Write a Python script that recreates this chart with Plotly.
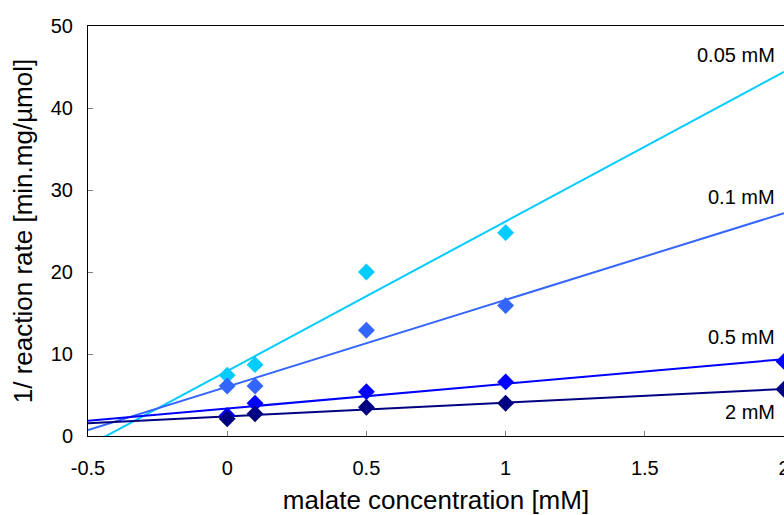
import numpy as np
import plotly.graph_objects as go

# Lineweaver-Burk style data: 1/rate versus malate concentration,
# one series per fixed co-substrate concentration
series_names = ["0.05 mM", "0.1 mM", "0.5 mM", "2 mM"]
series_x = [
    [0, 0.1, 0.5, 1],
    [0, 0.1, 0.5, 1],
    [0, 0.1, 0.5, 1, 2],
    [0, 0.1, 0.5, 1, 2],
]
inv_rate_005 = [7.4, 8.7, 20.0, 24.8]
inv_rate_01 = [6.1, 6.1, 12.9, 15.9]
inv_rate_05 = [2.5, 4.0, 5.4, 6.6, 9.1]
inv_rate_2 = [2.1, 2.7, 3.5, 4.0, 5.7]
series_y = [inv_rate_005, inv_rate_01, inv_rate_05, inv_rate_2]

colors = ["#00CCFF", "#3366FF", "#0000FF", "#000080"]

# label heights (data units) for the series names at the right edge
label_y = [46.5, 29.1, 12.1, 2.9]

x_ticks = [-0.5, 0, 0.5, 1, 1.5, 2]
x_tick_text = ["-0.5", "0", "0.5", "1", "1.5", "2"]
y_ticks = [0, 10, 20, 30, 40, 50]
x_range = [-0.5, 2]

FONT = "Liberation Sans, Arial, sans-serif"

fig = go.Figure()

# linear regression lines across the full x range
for name, xs, ys, c in zip(series_names, series_x, series_y, colors):
    slope, intercept = np.polyfit(xs, ys, 1)
    lx = np.array(x_range)
    fig.add_trace(go.Scatter(
        x=lx, y=slope * lx + intercept, mode="lines",
        line=dict(color=c, width=2), showlegend=False, hoverinfo="skip",
    ))

# measured points
for name, xs, ys, c in zip(series_names, series_x, series_y, colors):
    fig.add_trace(go.Scatter(
        x=xs, y=ys, mode="markers", name=name,
        marker=dict(symbol="diamond", size=13, color=c, line=dict(width=0)),
        showlegend=False,
    ))

for name, ly in zip(series_names, label_y):
    fig.add_annotation(
        x=0.99, xref="paper", y=ly, yref="y", text=name, showarrow=False,
        xanchor="right", yanchor="middle",
        font=dict(family=FONT, size=20, color="#000000"),
    )

fig.update_layout(
    width=784, height=515,
    margin=dict(l=88, r=0, t=26, b=79, autoexpand=False),
    paper_bgcolor="white", plot_bgcolor="white",
    font=dict(family=FONT, size=20, color="#000000"),
)
fig.update_xaxes(
    range=x_range, tickvals=x_ticks, ticktext=x_tick_text,
    showgrid=False, zeroline=False, automargin=False,
    showline=True, linecolor="#000000", linewidth=1, mirror=True,
    ticks="inside", ticklen=5, tickcolor="#808080",
    tickfont=dict(size=20), ticklabelstandoff=14, ticklabeloverflow="allow",
    title=dict(text="malate concentration [mM]", font=dict(size=26), standoff=12),
)
fig.update_yaxes(
    range=[0, 50], tickvals=y_ticks,
    showgrid=False, zeroline=False, automargin=False,
    showline=True, linecolor="#000000", linewidth=1,
    ticks="inside", ticklen=5, tickcolor="#808080",
    tickfont=dict(size=20), ticklabelstandoff=10,
    title=dict(text="1/ reaction rate [min.mg/µmol]", font=dict(size=26), standoff=10),
)

fig.write_html("out.html")
